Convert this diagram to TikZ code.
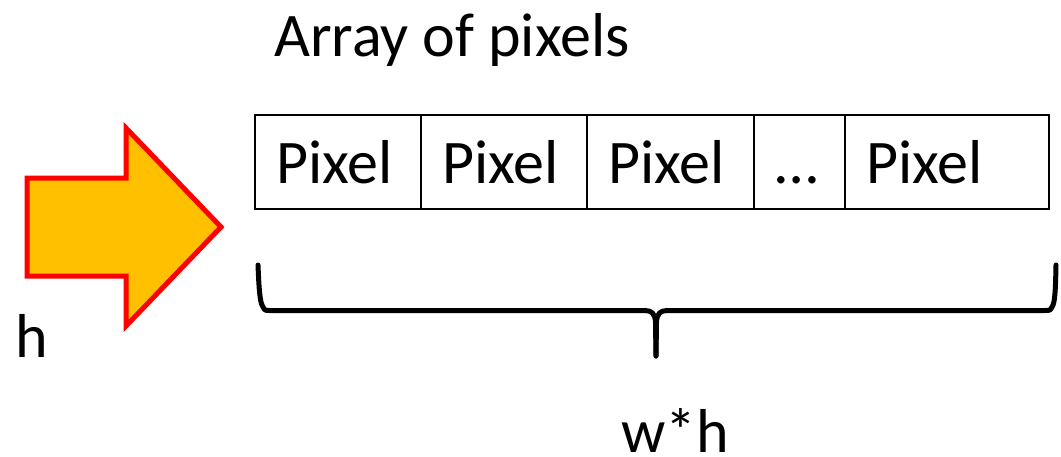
\documentclass[tikz,border=0pt]{standalone}
\usepackage{fontspec}
\setmainfont{Carlito}
\begin{document}
\begin{tikzpicture}[x=1pt,y=-1pt,
  every node/.style={font=\fontsize{62}{70}\selectfont},
  cell/.style={draw, line width=2pt, minimum height=94pt, inner xsep=21pt,
    inner ysep=0pt, outer sep=0pt, text height=42pt, text depth=0pt,
    align=left, anchor=west},
  bigarrow/.style={draw=red, line width=5pt, fill=arrowfill, line join=miter},
  brace/.style={line width=5pt, line cap=round, line join=round}]
\definecolor{arrowfill}{HTML}{FFC000}
\useasboundingbox (0,0) rectangle (1061,456);

% title
\node[anchor=base west, inner sep=0pt] (title) at (274,56) {Array of pixels};

% row of pixel cells
\node[cell, text width=124pt] (c1) at (255,162) {Pixel};
\node[cell, text width=124pt] (c2) at (c1.east) {Pixel};
\node[cell, text width=125pt] (c3) at (c2.east) {Pixel};
\node[cell, text width=49pt]  (c4) at (c3.east) {…};
\node[cell, text width=162pt] (c5) at (c4.east) {Pixel};

% block arrow
\draw[bigarrow] (27,178) -- (126,178) -- (126,128) -- (221,227)
  -- (126,326) -- (126,276) -- (27,276) -- cycle;

% brace under the row
\coordinate (bl) at (258,265);
\coordinate (bm) at (656,356);
\coordinate (br) at (1056,265);
\draw[brace] (bl) .. controls (259,290) and (260,303) .. (263,307)
  .. controls (265,310.5) .. (270,310.5) -- (645,310.5)
  .. controls (652,310.5) and (655,314) .. (655.5,322) -- (bm);
\draw[brace] (br) .. controls (1055.5,290) and (1055,303) .. (1052,307)
  .. controls (1050,310.5) .. (1045,310.5) -- (667,310.5)
  .. controls (660,310.5) and (657,314) .. (656.5,322) -- (bm);

% labels
\node[anchor=base west, inner sep=0pt] (hlab) at (15,357) {h};
\node[anchor=base, inner sep=0pt] (wh) at (675,452) {w*h};
\end{tikzpicture}
\end{document}
